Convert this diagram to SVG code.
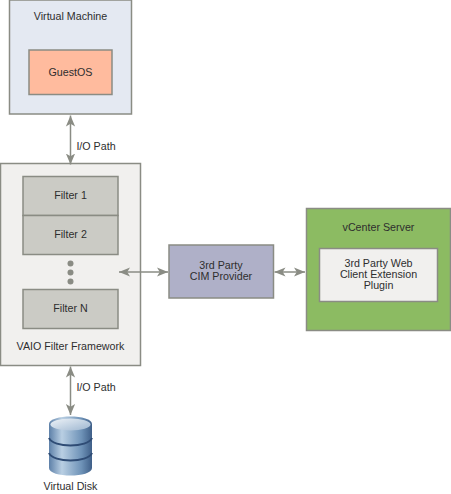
<svg xmlns="http://www.w3.org/2000/svg" width="451" height="494" viewBox="0 0 451 494">
<style>
text{font-family:"Liberation Sans",Arial,sans-serif;font-size:10.7px;fill:#2e2e2e;text-anchor:middle}
.box{stroke:#8a8c84;stroke-width:1.5}
.c{stroke:#8a8c84;stroke-width:1.5;fill:none;marker-start:url(#a);marker-end:url(#a)}
.d{fill:#8a8c84}
</style>
<defs>
<marker id="a" viewBox="0 0 10 10" refX="10" refY="5" markerUnits="userSpaceOnUse" markerWidth="11" markerHeight="11" orient="auto-start-reverse"><path d="M0 .8L10 5L0 9.200L2.500 5Z" fill="#8a8c84"/></marker>
<linearGradient id="g" x1="0" x2="1" y1="0" y2="0"><stop offset="0" stop-color="#5d80a8"/><stop offset=".3" stop-color="#b9cfe3"/><stop offset=".75" stop-color="#6f93b8"/><stop offset="1" stop-color="#3f5f88"/></linearGradient>
<linearGradient id="t" x1="0" x2="1" y1="0" y2="1"><stop offset="0" stop-color="#eef3f8"/><stop offset="1" stop-color="#9db6d0"/></linearGradient>
</defs>
<g id="vm"><rect class="box" x="9.500" y="0" width="122" height="114" fill="#e4e9f2"/><text x="70.500" y="20">Virtual Machine</text></g>
<g id="guest"><rect class="box" x="29" y="50" width="83" height="44.500" fill="#ffbb9e"/><text x="70.500" y="75.500">GuestOS</text></g>
<g id="framework"><rect class="box" x="0.500" y="163.500" width="140" height="202" fill="#f1f0ee"/><text x="70.500" y="350">VAIO Filter Framework</text></g>
<g id="filter1"><rect class="box" x="23" y="176.500" width="95" height="39" fill="#cbcbc5"/><text x="70.500" y="199">Filter 1</text></g>
<g id="filter2"><rect class="box" x="23" y="215.500" width="95" height="39" fill="#cbcbc5"/><text x="70.500" y="238">Filter 2</text></g>
<g id="dots"><circle class="d" cx="70.500" cy="263.500" r="3"/><circle class="d" cx="70.500" cy="272.500" r="3"/><circle class="d" cx="70.500" cy="281.500" r="3"/></g>
<g id="filterN"><rect class="box" x="23" y="289.500" width="95" height="39" fill="#cbcbc5"/><text x="70.500" y="312">Filter N</text></g>
<g id="cim"><rect class="box" x="169" y="245" width="104.500" height="53" fill="#afb0c8"/><text x="221" y="269">3rd Party</text><text x="221" y="280">CIM Provider</text></g>
<g id="vcenter"><rect class="box" x="306.500" y="208.500" width="144" height="122" fill="#8cbb62"/><text x="378.500" y="231">vCenter Server</text></g>
<g id="plugin"><rect class="box" x="319.500" y="248.500" width="118" height="53" fill="#f1f0ee"/><text x="378.500" y="267">3rd Party Web</text><text x="378.500" y="278">Client Extension</text><text x="378.500" y="289">Plugin</text></g>
<g id="disk">
<path d="M49 424C49 414 92 414 92 424V468C92 478 49 478 49 468Z" fill="url(#g)"/>
<ellipse cx="70.500" cy="424.500" rx="20" ry="6" fill="url(#t)"/>
<path d="M49 438C53 448 88 448 92 438M49 453C53 463 88 463 92 453" fill="none" stroke="#2f4c75" stroke-width="2"/>
<text x="70.500" y="490">Virtual Disk</text>
</g>
<g id="connectors">
<path class="c" d="M70.500 115.500V164.500"/>
<path class="c" d="M70.500 366.500V415"/>
<path class="c" d="M119 272H168"/>
<path class="c" d="M274.500 272H305"/>
</g>
<g id="labels"><text x="96" y="150">I/O Path</text><text x="96" y="391">I/O Path</text></g>
</svg>
